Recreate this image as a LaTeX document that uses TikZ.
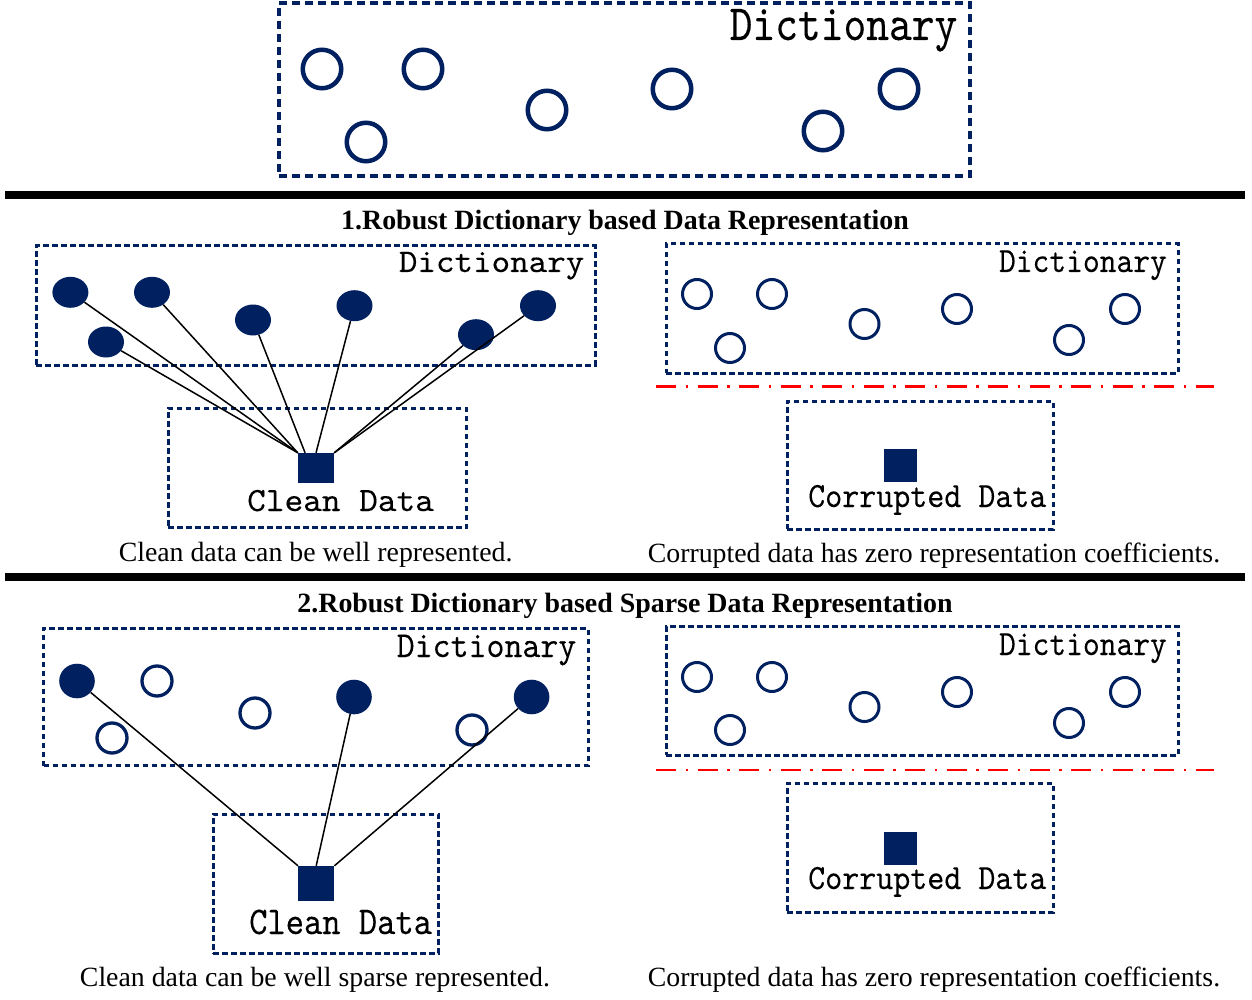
\documentclass[tikz,border=0pt]{standalone}
\usepackage{fontspec}
\setmainfont{Liberation Serif}
\setmonofont{lmmono10-regular.otf}[FakeBold=0.15]
\usetikzlibrary{shapes.geometric,calc}
\definecolor{navy}{RGB}{0,32,96}
% mono label: #1 horizontal scale, #2 font size, #3 text
\newcommand\monolabel[3]{\scalebox{#1}[1]{\ttfamily\fontsize{#2}{#2}\selectfont #3}}
\begin{document}
\begin{tikzpicture}[x=1pt,y=-1pt,
  bigbox/.style={draw=navy, line width=4pt, dash pattern=on 8pt off 5pt, inner sep=0pt},
  dbox/.style={draw=navy, line width=3pt, dash pattern=on 5.5pt off 3.5pt, inner sep=0pt},
  bigocirc/.style={circle, draw=navy, line width=4.5pt, minimum size=38.5pt, inner sep=0pt},
  ocirc/.style={circle, draw=navy, line width=3pt, minimum size=29pt, inner sep=0pt},
  ocircb/.style={circle, draw=navy, line width=3.3pt, minimum size=30pt, inner sep=0pt},
  fellA/.style={ellipse, fill=navy, minimum width=36pt, minimum height=31pt, inner sep=0pt},
  fellB/.style={ellipse, fill=navy, minimum width=35.6pt, minimum height=34.6pt, inner sep=0pt},
  sqr/.style={rectangle, fill=navy, inner sep=0pt},
  conn/.style={draw=black, line width=1.5pt},
  rulestyle/.style={draw=black, line width=8pt},
  redline/.style={draw=red, line width=2.5pt, dash pattern=on 20pt off 9.5pt on 2.5pt off 9.5pt},
  lbl/.style={inner sep=0pt},
  captxt/.style={inner sep=0pt, anchor=base, font=\fontsize{27.8}{28}\selectfont},
  headtxt/.style={inner sep=0pt, anchor=base, font=\bfseries\fontsize{27.9}{28}\selectfont}
]
\useasboundingbox (0,0) rectangle (1252,1000);

% ---------- top dictionary ----------
\node[bigbox, minimum width=691pt, minimum height=173pt] (topbox) at (624.5,89.5) {};
\node[lbl, anchor=base east] (toptxt) at (957.5,40) {\monolabel{0.855}{50.7}{Dictionary}};
\node[bigocirc] (t1) at (322,69) {};
\node[bigocirc] (t2) at (423,69) {};
\node[bigocirc] (t3) at (366,142) {};
\node[bigocirc] (t4) at (547,110) {};
\node[bigocirc] (t5) at (672,89) {};
\node[bigocirc] (t6) at (823,131) {};
\node[bigocirc] (t7) at (899,89) {};

% ---------- rules ----------
\coordinate (r1a) at (5,195.5);
\coordinate (r1b) at (1245,195.5);
\draw[rulestyle] (r1a) -- (r1b);
\coordinate (r2a) at (5,577);
\coordinate (r2b) at (1245,577);
\draw[rulestyle] (r2a) -- (r2b);

% ---------- headings ----------
\node[headtxt] (h1) at (625,230) {1.Robust Dictionary based Data Representation};
\node[headtxt] (h2) at (625,612) {2.Robust Dictionary based Sparse Data Representation};

% ---------- panel 1 left ----------
\node[dbox, minimum width=558.6pt, minimum height=119.3pt] (p1lbox) at (315.7,305.35) {};
\node[lbl, anchor=base east] (p1ltxt) at (584.5,272) {\monolabel{1.07}{33}{Dictionary}};
\node[fellA] (a1) at (70.4,292.3) {};
\node[fellA] (a2) at (152,292.3) {};
\node[fellA] (a3) at (106,342) {};
\node[fellA] (a4) at (253,320) {};
\node[fellA] (a5) at (354.5,305.7) {};
\node[fellA] (a6) at (476,334.7) {};
\node[fellA] (a7) at (538,305.7) {};
\node[dbox, minimum width=298.4pt, minimum height=119.4pt] (c1box) at (317.2,468) {};
\node[sqr, minimum width=36pt, minimum height=30pt] (sq1) at (316,468) {};
\node[lbl, anchor=base west] (c1txt) at (247,511) {\monolabel{1.046}{34}{Clean Data}};
\draw[conn] (a1) -- (sq1.north west);
\draw[conn] (a3) -- (sq1.north west);
\draw[conn] (a2) -- (sq1.north west);
\draw[conn] (a4) -- ($(sq1.north west)!0.2!(sq1.north east)$);
\draw[conn] (a5) -- (sq1.north);
\draw[conn] (a6) -- (sq1.north east);
\draw[conn] (a7) -- (sq1.north east);
\node[captxt] (cap1l) at (315.6,561.7) {Clean data can be well represented.};

% ---------- panel 1 right ----------
\node[dbox, minimum width=512pt, minimum height=129.3pt] (p1rbox) at (922,308.65) {};
\node[lbl, anchor=base east] (p1rtxt) at (1167,272) {\monolabel{0.90}{35.5}{Dictionary}};
\node[ocirc] (b1) at (697,294) {};
\node[ocirc] (b2) at (772,294) {};
\node[ocirc] (b3) at (730,348) {};
\node[ocirc] (b4) at (864.5,324) {};
\node[ocirc] (b5) at (957,309) {};
\node[ocirc] (b6) at (1069,340) {};
\node[ocirc] (b7) at (1125,309) {};
\coordinate (red1a) at (656,386.7);
\coordinate (red1b) at (1214,386.7);
\draw[redline] (red1a) -- (red1b);
\node[dbox, minimum width=266pt, minimum height=128pt] (k1box) at (920,465) {};
\node[sqr, minimum width=33.5pt, minimum height=33pt] (ksq1) at (900.25,465.5) {};
\node[lbl, anchor=base west] (k1txt) at (808,507) {\monolabel{0.913}{35.5}{Corrupted Data}};
\node[captxt] (cap1r) at (934,562) {Corrupted data has zero representation coefficients.};

% ---------- panel 2 left ----------
\node[dbox, minimum width=544.5pt, minimum height=137.4pt] (p2lbox) at (315.75,697) {};
\node[lbl, anchor=base east] (p2ltxt) at (576.5,657) {\monolabel{0.937}{36.5}{Dictionary}};
\node[fellB] (d1) at (77,681) {};
\node[ocircb] (d2) at (157,681) {};
\node[ocircb] (d3) at (112,738) {};
\node[ocircb] (d4) at (255,713) {};
\node[fellB] (d5) at (354,697) {};
\node[ocircb] (d6) at (472,730) {};
\node[fellB] (d7) at (531.6,697) {};
\node[dbox, minimum width=225.3pt, minimum height=139.3pt] (c2box) at (326,883.65) {};
\node[sqr, minimum width=36pt, minimum height=35pt] (sq2) at (316.2,883.5) {};
\node[lbl, anchor=base west] (c2txt) at (249,934) {\monolabel{0.886}{39.3}{Clean Data}};
\draw[conn] (d1) -- (sq2.north west);
\draw[conn] (d5) -- (sq2.north);
\draw[conn] (d7) -- (sq2.north east);
\node[captxt] (cap2l) at (315,986.7) {Clean data can be well sparse represented.};

% ---------- panel 2 right ----------
\node[dbox, minimum width=512pt, minimum height=128.6pt] (p2rbox) at (922,691) {};
\node[lbl, anchor=base east] (p2rtxt) at (1167,655) {\monolabel{0.90}{35.5}{Dictionary}};
\node[ocirc] (e1) at (697,677) {};
\node[ocirc] (e2) at (772,677) {};
\node[ocirc] (e3) at (730,730) {};
\node[ocirc] (e4) at (864.5,707) {};
\node[ocirc] (e5) at (957,692) {};
\node[ocirc] (e6) at (1069,723) {};
\node[ocirc] (e7) at (1125,692) {};
\coordinate (red2a) at (656,770);
\coordinate (red2b) at (1214,770);
\draw[redline] (red2a) -- (red2b);
\node[dbox, minimum width=266pt, minimum height=129pt] (k2box) at (920,847.5) {};
\node[sqr, minimum width=33.5pt, minimum height=33pt] (ksq2) at (900.25,848.5) {};
\node[lbl, anchor=base west] (k2txt) at (808,889) {\monolabel{0.913}{35.5}{Corrupted Data}};
\node[captxt] (cap2r) at (934,986.7) {Corrupted data has zero representation coefficients.};
\end{tikzpicture}
\end{document}
